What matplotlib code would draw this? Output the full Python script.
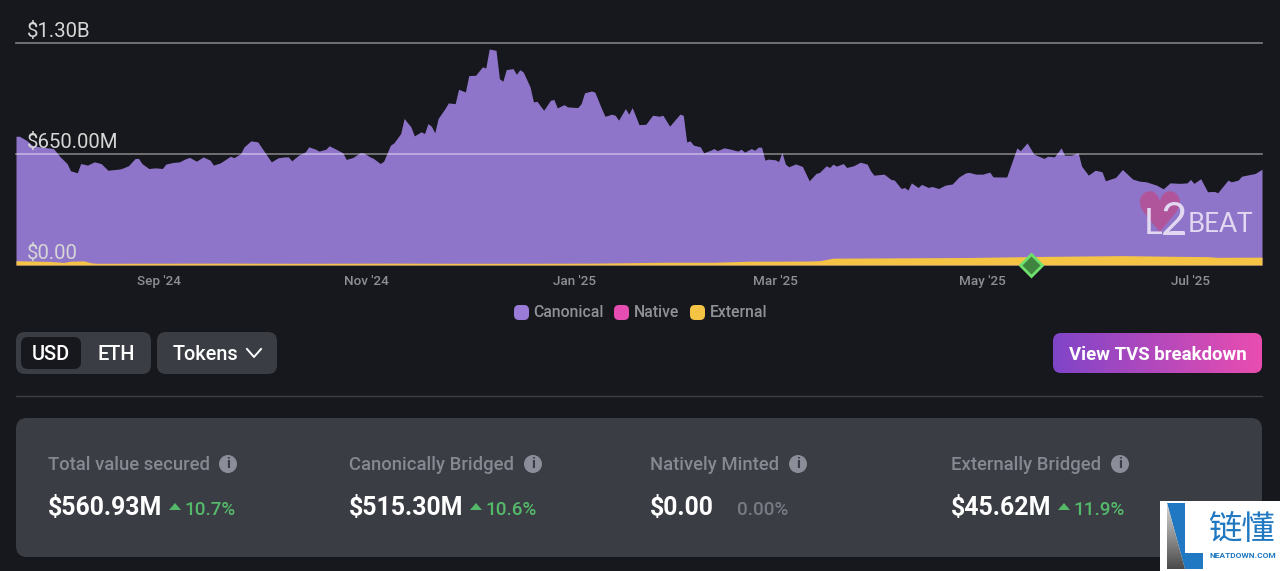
import numpy as np
import pandas as pd
import matplotlib
matplotlib.use('Agg')
import matplotlib.pyplot as plt
import matplotlib.dates as mdates
from matplotlib.patches import FancyBboxPatch, Polygon, Circle

# Chart values: days since the first date, totals in millions of USD.
start_date = '2024-07-21'
total_days = [
    0, 1, 3, 5, 7, 11, 13, 15, 16, 18, 19, 21, 23, 25, 27, 30, 31, 33, 35, 36, 37, 39, 41, 43, 44, 46, 48, 50, 51, 53,
    55, 57, 58, 60, 62, 63, 64, 66, 67, 69, 71, 72, 74, 75, 77, 79, 80, 81, 83, 85, 86, 88, 89, 91, 92, 94, 96, 97, 99,
    101, 102, 104, 105, 107, 108, 110, 111, 113, 114, 116, 117, 119, 120, 121, 122, 123, 124, 126, 127, 129, 130, 132,
    133, 135, 137, 138, 139, 141, 142, 143, 144, 146, 147, 148, 149, 151, 152, 153, 155, 157, 158, 159, 161, 162, 165,
    166, 167, 169, 170, 172, 173, 175, 176, 177, 179, 180, 181, 183, 185, 187, 189, 190, 192, 195, 196, 197, 198, 199,
    201, 202, 204, 205, 206, 208, 210, 212, 213, 214, 216, 217, 218, 219, 220, 221, 223, 224, 225, 226, 227, 229, 231,
    233, 235, 236, 238, 239, 240, 241, 243, 244, 246, 248, 250, 251, 252, 255, 257, 258, 260, 261, 262, 263, 265, 266,
    268, 269, 271, 273, 275, 277, 279, 280, 282, 284, 286, 287, 291, 294, 295, 297, 299, 302, 303, 305, 307, 308, 310,
    312, 313, 315, 317, 319, 320, 323, 325, 328, 330, 332, 335, 337, 339, 342, 344, 345, 346, 348, 350, 352, 353, 354,
    356, 357, 359, 360, 364, 366,
]
total_musd = [
    754, 754, 731, 698, 692, 682, 633, 594, 552, 540, 594, 585, 604, 594, 555, 561, 565, 581, 624, 624, 594, 565, 569,
    565, 591, 600, 604, 624, 630, 608, 633, 614, 585, 598, 624, 637, 628, 653, 692, 727, 721, 692, 633, 604, 628, 633,
    633, 610, 643, 663, 692, 678, 667, 678, 698, 678, 657, 618, 630, 657, 657, 633, 624, 594, 608, 702, 715, 770, 858,
    809, 756, 780, 770, 828, 813, 774, 858, 916, 949, 945, 1029, 1013, 1109, 1111, 1160, 1154, 1265, 1257, 1091, 1076,
    1144, 1150, 1117, 1144, 1130, 1043, 955, 959, 906, 965, 969, 920, 939, 926, 922, 945, 1008, 1019, 1013, 916, 871,
    883, 877, 848, 916, 883, 922, 822, 824, 877, 871, 877, 813, 883, 877, 721, 727, 702, 692, 657, 672, 682, 670, 686,
    678, 667, 678, 661, 682, 672, 690, 690, 614, 620, 616, 606, 659, 591, 575, 592, 577, 493, 536, 542, 581, 571, 591,
    579, 594, 571, 581, 602, 591, 552, 526, 532, 501, 497, 448, 454, 439, 481, 454, 472, 454, 460, 448, 468, 474, 516,
    540, 542, 532, 532, 544, 516, 515, 686, 669, 715, 649, 624, 637, 633, 686, 643, 643, 657, 579, 526, 555, 546, 493,
    513, 559, 503, 491, 487, 468, 446, 481, 478, 481, 501, 478, 505, 429, 431, 423, 448, 497, 487, 497, 520, 536, 561,
]
external_days = [0, 10, 14, 16, 20, 22, 24, 60, 85, 110, 130, 150, 170, 190, 205, 215, 232, 236, 240, 280, 300, 325,
                 340, 350, 353, 366]
external_musd = [25, 21, 15, 22, 24, 13, 10, 11, 10, 11, 10, 10, 11, 16, 16, 22, 23, 25, 40, 44, 50, 55, 51, 49, 45, 46]
event_day = 298

y_ticks = [0, 650, 1300]
y_labels = ['$0.00', '$650.00M', '$1.30B']
x_ticks = ['2024-09-01', '2024-11-01', '2025-01-01', '2025-03-01', '2025-05-01', '2025-07-01']

legend_names = ['Canonical', 'Native', 'External']
legend_colors = ['#9A7BD8', '#E54DB2', '#F6C445']

card_labels = ['Total value secured', 'Canonically Bridged', 'Natively Minted', 'Externally Bridged']
card_values = ['$560.93M', '$515.30M', '$0.00', '$45.62M']
card_changes = ['10.7%', '10.6%', '0.00%', '11.9%']

BG = '#17181D'
PANEL = '#3A3D44'
GREEN = '#55B96A'
plt.rcParams['font.family'] = ['Roboto', 'Noto Sans CJK SC', 'DejaVu Sans']

fig = plt.figure(figsize=(12.8, 5.71), dpi=100, facecolor=BG)

# Chart area, placed so the axis runs over the same pixels as the page.
ax = fig.add_axes([16 / 1280, (571 - 265) / 571, 1246 / 1280, 222 / 571], facecolor=BG)
dates = pd.to_datetime(start_date) + pd.to_timedelta(total_days, unit='D')
ext_dates = pd.to_datetime(start_date) + pd.to_timedelta(external_days, unit='D')
ax.fill_between(dates, 0, total_musd, color='#8F75C9', lw=0)
ax.fill_between(ext_dates, 0, external_musd, color='#F6C445', lw=0)
ax.set_xlim(dates[0], dates[-1])
ax.set_ylim(0, 1300)
for s in ax.spines.values():
    s.set_visible(False)

ax.set_yticks([])
ax.set_xticks(pd.to_datetime(x_ticks))
ax.xaxis.set_major_formatter(mdates.DateFormatter("%b '%y"))
ax.tick_params(axis='x', length=0, pad=7, labelsize=9.7, labelcolor='#8D8F96')
for lab in ax.get_xticklabels():
    lab.set_fontweight('medium')

for v, lab in zip(y_ticks, y_labels):
    if v > 0:
        ax.axhline(v, color='white', alpha=0.45, lw=1.2, zorder=4, clip_on=False)
    ax.annotate(lab, (0, v), xycoords=('axes fraction', 'data'), xytext=(11, 2), textcoords='offset pixels',
                color='#D6D6D6', fontsize=14.7, va='bottom', zorder=5, annotation_clip=False)

event_date = pd.to_datetime(start_date) + pd.to_timedelta(event_day, unit='D')
ax.plot([event_date], [0], marker='D', ms=11.5, mfc='#3F8540', mec='#6FE06B', mew=2, clip_on=False, zorder=6)

# Everything around the chart is page furniture, drawn in page pixels.
ui = fig.add_axes([0, 0, 1, 1], facecolor='none')
ui.set_axis_off()


def box(x0, y0, x1, y1, color, r=8, z=1):
    p = FancyBboxPatch((x0 + r, y0 + r), x1 - x0 - 2 * r, y1 - y0 - 2 * r, boxstyle=f'round,pad={r},rounding_size={r}',
                       fc=color, ec='none', zorder=z)
    ui.add_patch(p)
    return p


def gradient(x0, y0, x1, y1, c0, c1, clip, horizontal=True, z=2):
    c0, c1 = np.array(matplotlib.colors.to_rgb(c0)), np.array(matplotlib.colors.to_rgb(c1))
    t = np.linspace(0, 1, 200)
    t = t[None, :, None] if horizontal else t[:, None, None]
    im = ui.imshow(c0 + (c1 - c0) * t, extent=(x0, x1, y1, y0), aspect='auto', zorder=z, interpolation='bilinear')
    im.set_clip_path(clip)


# Legend
legend_swatch_x = [514, 614, 690]
for x, name, c in zip(legend_swatch_x, legend_names, legend_colors):
    box(x, 305, x + 15, 320, c, r=5)
    ui.text(x + 19.5, 312.5, name, color='#8F9199', fontsize=11.3, fontweight='medium', va='center')

# Unit and token switches
box(16, 332, 151, 374, PANEL, r=9)
box(21, 337, 81, 369, BG, r=7, z=2)
box(157, 332, 277, 374, PANEL, r=9)
ui.text(51, 354.5, 'USD', color='white', fontsize=14.3, fontweight='medium', ha='center', va='center', zorder=3)
ui.text(116, 354.5, 'ETH', color='white', fontsize=14.3, fontweight='medium', ha='center', va='center', zorder=3)
ui.text(173, 354.5, 'Tokens', color='white', fontsize=14.3, fontweight='medium', va='center', zorder=3)
ui.plot([247, 254, 261], [349, 357, 349], color='white', lw=1.4, zorder=3)

# Breakdown button
btn = box(1053, 333, 1262, 373, 'none', r=8)
gradient(1053, 333, 1262, 373, '#7F45C8', '#E94DB0', btn)
ui.text(1157.5, 354.5, 'View TVS breakdown', color='white', fontsize=13.4, fontweight='bold', ha='center', va='center',
        zorder=3)

ui.plot([16, 1262], [396, 396], color='#3E4046', lw=1)

# Stat cards
box(16, 418, 1262, 557, PANEL, r=11)
card_x = [48, 349, 650, 951]
icon_x = [228, 533, 798, 1120]
change_x = [184.5, 485.5, 736.5, 1073.5]
tri_x = [175, 476, None, 1064]
for i in range(4):
    ui.text(card_x[i], 465.5, card_labels[i], color='#868892', fontsize=13.35, fontweight='medium', va='center', zorder=3)
    ui.add_patch(Circle((icon_x[i], 464), 9, fc='#8B8D98', ec='none', zorder=3))
    ui.text(icon_x[i], 464.5, 'i', color=PANEL, fontsize=11, fontweight='bold', ha='center', va='center', zorder=4)
    ui.text(card_x[i], 508.5, card_values[i], color='white', fontsize=17.9, fontweight='bold', va='center', zorder=3)
    change_color = GREEN if tri_x[i] else '#787A84'
    ui.text(change_x[i], 510, card_changes[i], color=change_color, fontsize=13.6, fontweight='medium', va='center',
            zorder=3)
    if tri_x[i]:
        ui.add_patch(Polygon([(tri_x[i] - 6, 510), (tri_x[i] + 6, 510), (tri_x[i], 503)], fc=GREEN, ec='none', zorder=3))

# L2BEAT mark on the chart
ui.text(1159, 217, '\u2665', color='#B0559B', fontsize=40, family='DejaVu Sans', ha='center', va='center', zorder=7)
ui.text(1144, 224, 'L', color='#E3D8F2', fontsize=26, family='Lato', va='center', zorder=8)
ui.text(1161, 222, '2', color='#E3D8F2', fontsize=33, family='Lato', va='center', zorder=8)
ui.text(1188, 225, 'BEAT', color='#E3D8F2', fontsize=19, family=['Liberation Sans Narrow', 'Lato'], va='center', zorder=8)

# Site stamp, bottom right
ui.fill_between([1160, 1280], 501, 571, color='white', lw=0, zorder=9)
ui.add_patch(Polygon([(1167, 503), (1185, 503), (1185, 553), (1203, 553), (1203, 569), (1185, 569)], fc='#1F78C1',
                     ec='none', zorder=10))
tri = Polygon([(1167, 503), (1185, 569), (1167, 569)], fc='none', ec='none', zorder=10)
ui.add_patch(tri)
gradient(1167, 503, 1185, 569, '#D8D8D8', '#4A4A4A', tri, horizontal=False, z=11)
ui.text(1241.5, 530, '链懂', color='#1F78C1', fontsize=24, family='Noto Sans CJK SC', ha='center', va='center', zorder=10)
ui.text(1243, 555, 'NEATDOWN.COM', color='#1F78C1', fontsize=6, fontweight='bold', ha='center', va='center', zorder=10)

ui.set_xlim(0, 1280)
ui.set_ylim(571, 0)

fig.savefig('out.png', dpi=100, facecolor=BG)
